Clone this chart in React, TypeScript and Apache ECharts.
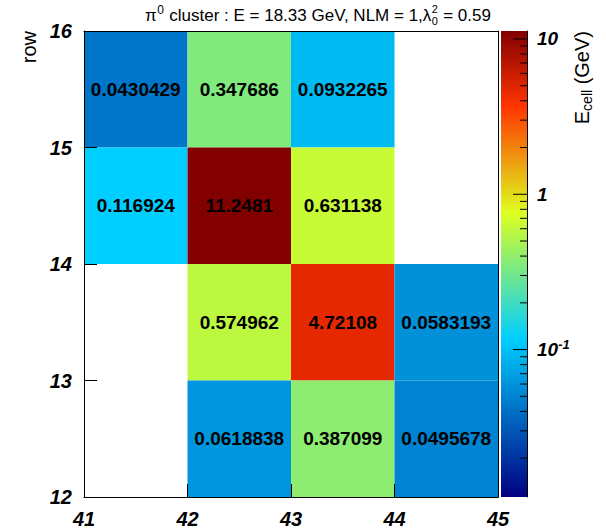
import React, { useEffect, useRef } from "react";
import * as echarts from "echarts";

// ---- data ----
const columnEdges = [41, 42, 43, 44];
const rowEdges = [15, 14, 13, 12];
const row15 = [0.0430429, 0.347686, 0.0932265, null];
const row14 = [0.116924, 11.2481, 0.631138, null];
const row13 = [null, 0.574962, 4.72108, 0.0583193];
const row12 = [null, 0.0618838, 0.387099, 0.0495678];
const cellRows = [row15, row14, row13, row12];

const xRange = [41, 45];
const yRange = [12, 16];
const zMax = 11.2481;
const zMin = zMax * 0.001;
const colorbarTicks = [
  0.02, 0.03, 0.04, 0.05, 0.06, 0.07, 0.08, 0.09,
  0.1, 0.2, 0.3, 0.4, 0.5, 0.6, 0.7, 0.8, 0.9,
  1, 2, 3, 4, 5, 6, 7, 8, 9, 10,
];

// palette
const paletteStops = [0, 0.34, 0.61, 0.84, 1];
const paletteRed = [0, 0, 0.87, 1, 0.51];
const paletteGreen = [0, 0.81, 1, 0.2, 0];
const paletteBlue = [0.51, 1, 0.12, 0, 0];

const FONT = "'Liberation Sans', Arial, Helvetica, sans-serif";

function paletteColor(t: number): string {
  let i = 0;
  while (i < paletteStops.length - 2 && t > paletteStops[i + 1]) i++;
  const f = (t - paletteStops[i]) / (paletteStops[i + 1] - paletteStops[i]);
  const c = (a: number[]) => Math.round(255 * (a[i] + (a[i + 1] - a[i]) * Math.max(0, Math.min(1, f))));
  return `rgb(${c(paletteRed)},${c(paletteGreen)},${c(paletteBlue)})`;
}

const paletteSamples: string[] = [];
for (let k = 0; k <= 200; k++) paletteSamples.push(paletteColor(k / 200));

export default function App() {
  const ref = useRef<HTMLDivElement>(null);
  useEffect(() => {
    if (!ref.current) return;
    const chart = echarts.init(ref.current, undefined, { renderer: "svg" });

    const cellData: number[][] = [];
    cellRows.forEach((row, ri) => {
      row.forEach((v, ci) => {
        if (v !== null && v !== undefined) {
          cellData.push([columnEdges[ci], rowEdges[ri], Math.log10(v), v]);
        }
      });
    });

    // title measurement
    const cv = document.createElement("canvas").getContext("2d")!;
    const baseSize = 17;
    const smallSize = 12;
    const stackSize = 11;
    const baseFont = `${baseSize}px ${FONT}`;
    const smallFont = `${smallSize}px ${FONT}`;
    const stackFont = `${stackSize}px ${FONT}`;
    const mw = (t: string, f: string) => {
      cv.font = f;
      return cv.measureText(t).width;
    };
    const pieces: { text: string; kind: "b" | "sup" | "stack" }[] = [
      { text: "π", kind: "b" },
      { text: "0", kind: "sup" },
      { text: " cluster : E = 18.33 GeV, NLM = 1,λ", kind: "b" },
      { text: "", kind: "stack" },
      { text: " = 0.59", kind: "b" },
    ];
    const widths = pieces.map((p) =>
      p.kind === "b" ? mw(p.text, baseFont) : p.kind === "sup" ? mw(p.text, smallFont) + 1 : Math.max(mw("2", stackFont), mw("0", stackFont)) + 1
    );
    const total = widths.reduce((a, b) => a + b, 0);
    const titleCenter = 318;
    const titleY = 15;
    let cx = titleCenter - total / 2;
    const titleEls: any[] = [];
    pieces.forEach((p, i) => {
      if (p.kind === "b") {
        titleEls.push({ type: "text", x: cx, y: titleY, style: { text: p.text, font: baseFont, fill: "#000", align: "left", verticalAlign: "middle" } });
      } else if (p.kind === "sup") {
        titleEls.push({ type: "text", x: cx + 0.5, y: titleY - 5, style: { text: p.text, font: smallFont, fill: "#000", align: "left", verticalAlign: "middle" } });
      } else {
        titleEls.push({ type: "text", x: cx + 0.5, y: titleY - 6, style: { text: "2", font: stackFont, fill: "#000", align: "left", verticalAlign: "middle" } });
        titleEls.push({ type: "text", x: cx + 0.5, y: titleY + 6, style: { text: "0", font: stackFont, fill: "#000", align: "left", verticalAlign: "middle" } });
      }
      cx += widths[i];
    });

    const tickLabelStyle = {
      fontFamily: FONT,
      fontSize: 20,
      fontWeight: "bold" as const,
      fontStyle: "italic" as const,
      color: "#000",
    };

    const gradStops = paletteStops.map((s, i) => ({
      offset: s,
      color: `rgb(${Math.round(paletteRed[i] * 255)},${Math.round(paletteGreen[i] * 255)},${Math.round(paletteBlue[i] * 255)})`,
    }));

    const option: any = {
      animation: false,
      backgroundColor: "#fff",
      grid: [
        { left: 84, top: 31, width: 414, height: 466, containLabel: false },
        { left: 501, top: 31, width: 26, height: 466, containLabel: false },
      ],
      xAxis: [
        {
          type: "value", gridIndex: 0, min: xRange[0], max: xRange[1], interval: 1, position: "bottom", z: 10,
          axisLine: { show: true, onZero: false, lineStyle: { color: "#000", width: 1 } },
          axisTick: { show: true, inside: true, length: 13, lineStyle: { color: "#000", width: 1 } },
          axisLabel: { ...tickLabelStyle, margin: 12 },
          splitLine: { show: false },
        },
        { type: "value", gridIndex: 1, min: 0, max: 1, show: false },
        {
          type: "value", gridIndex: 0, min: xRange[0], max: xRange[1], position: "top", z: 10,
          axisLine: { show: true, onZero: false, lineStyle: { color: "#000", width: 1 } },
          axisTick: { show: false }, axisLabel: { show: false }, splitLine: { show: false },
        },
      ],
      yAxis: [
        {
          type: "value", gridIndex: 0, min: yRange[0], max: yRange[1], interval: 1, position: "left", z: 10,
          axisLine: { show: true, onZero: false, lineStyle: { color: "#000", width: 1 } },
          axisTick: { show: true, inside: true, length: 13, lineStyle: { color: "#000", width: 1 } },
          axisLabel: { ...tickLabelStyle, margin: 12 },
          splitLine: { show: false },
        },
        {
          type: "log", logBase: 10, gridIndex: 1, min: zMin, max: zMax, position: "right", z: 10,
          axisLine: { show: true, onZero: false, lineStyle: { color: "#000", width: 1 } },
          axisTick: { show: false },
          splitLine: { show: false },
          axisLabel: {
            ...tickLabelStyle,
            fontSize: 19,
            margin: 10,
            showMinLabel: false,
            showMaxLabel: false,
            formatter: (v: number) => {
              const l = Math.log10(v);
              const r = Math.round(l);
              if (Math.abs(l - r) > 1e-6) return "";
              if (r === 0) return "1";
              if (r === 1) return "10";
              return `{b|10}{s|${r}}`;
            },
            rich: {
              b: { fontFamily: FONT, fontSize: 19, fontWeight: "bold", fontStyle: "italic", color: "#000", lineHeight: 24 },
              s: { fontFamily: FONT, fontSize: 13, fontWeight: "bold", fontStyle: "italic", color: "#000", lineHeight: 12, verticalAlign: "top" },
            },
          },
        },
        {
          type: "value", gridIndex: 0, min: yRange[0], max: yRange[1], position: "right", z: 10,
          axisLine: { show: true, onZero: false, lineStyle: { color: "#000", width: 1 } },
          axisTick: { show: false }, axisLabel: { show: false }, splitLine: { show: false },
        },
      ],
      visualMap: {
        show: false,
        type: "continuous",
        seriesIndex: 0,
        dimension: 2,
        min: Math.log10(zMin),
        max: Math.log10(zMax),
        inRange: { color: paletteSamples },
      },
      series: [
        {
          type: "custom",
          xAxisIndex: 0,
          yAxisIndex: 0,
          encode: { x: 0, y: 1 },
          data: cellData,
          z: 2,
          renderItem: (params: any, api: any) => {
            const x = api.value(0);
            const y = api.value(1);
            const v = api.value(3);
            const p0 = api.coord([x, y + 1]);
            const p1 = api.coord([x + 1, y]);
            return {
              type: "group",
              children: [
                {
                  type: "rect",
                  shape: { x: p0[0], y: p0[1], width: p1[0] - p0[0], height: p1[1] - p0[1] },
                  style: { fill: api.visual("color"), stroke: null },
                },
                {
                  type: "text",
                  x: (p0[0] + p1[0]) / 2,
                  y: (p0[1] + p1[1]) / 2,
                  style: {
                    text: String(v),
                    fill: "#000",
                    font: `bold 19px ${FONT}`,
                    align: "center",
                    verticalAlign: "middle",
                  },
                },
              ],
            };
          },
        },
        {
          type: "custom",
          xAxisIndex: 1,
          yAxisIndex: 1,
          data: [[0, zMin]],
          z: 2,
          renderItem: (params: any, api: any) => {
            const p0 = api.coord([0, zMax]);
            const p1 = api.coord([1, zMin]);
            return {
              type: "rect",
              shape: { x: p0[0], y: p0[1], width: p1[0] - p0[0], height: p1[1] - p0[1] },
              style: { fill: new echarts.graphic.LinearGradient(0, 1, 0, 0, gradStops) },
            };
          },
        },
        {
          type: "custom",
          xAxisIndex: 1,
          yAxisIndex: 1,
          data: colorbarTicks.map((t) => [1, t]),
          z: 5,
          renderItem: (params: any, api: any) => {
            const t = api.value(1);
            const p = api.coord([1, t]);
            const l = Math.log10(t);
            const major = Math.abs(l - Math.round(l)) < 1e-6;
            const len = major ? 14 : 7;
            return {
              type: "line",
              shape: { x1: p[0] - len, y1: p[1], x2: p[0], y2: p[1] },
              style: { stroke: "#000", lineWidth: 1 },
            };
          },
        },
      ],
      graphic: [
        ...titleEls,
        {
          type: "text",
          x: 29,
          y: 31,
          rotation: Math.PI / 2,
          style: { text: "row", font: `20px ${FONT}`, fill: "#000", align: "right", verticalAlign: "middle" },
        },
        {
          type: "text",
          x: 582,
          y: 31,
          rotation: Math.PI / 2,
          style: {
            text: "{n|E}{sub|cell}{n| (GeV)}",
            align: "right",
            verticalAlign: "middle",
            rich: {
              n: { fontFamily: FONT, fontSize: 20, color: "#000", lineHeight: 24 },
              sub: { fontFamily: FONT, fontSize: 14, color: "#000", lineHeight: 10, verticalAlign: "bottom" },
            },
          },
        },
      ],
    };
    chart.setOption(option);
    return () => chart.dispose();
  }, []);
  return <div ref={ref} style={{ width: 606, height: 531, position: "absolute", left: 0, top: 0 }} />;
}
